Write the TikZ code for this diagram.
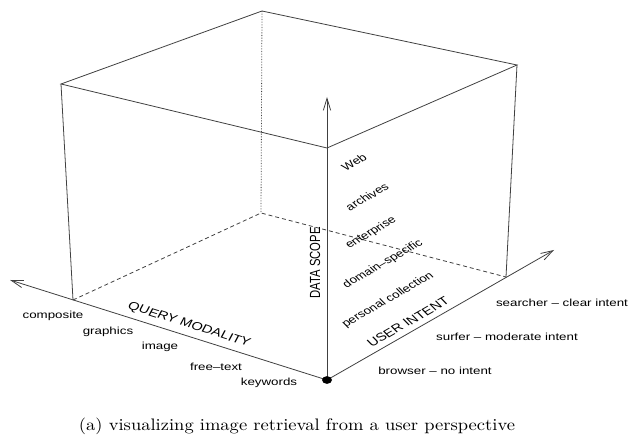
\documentclass[tikz,border=0pt]{standalone}
\usepackage{fontspec}
\usepackage{graphicx}
\usetikzlibrary{arrows.meta,shapes.geometric}
\newfontfamily\lsans{Liberation Sans}
\newcommand{\sqz}[2]{\scalebox{1}[0.77]{\rotatebox{#1}{#2}}}
\begin{document}
\begin{tikzpicture}[x=0.75pt,y=-0.75pt,
  edge/.style={line width=0.6pt, draw=black!75},
  hidden/.style={edge, dash pattern=on 3pt off 2.2pt},
  backdot/.style={edge, dash pattern=on 0.8pt off 1.2pt},
  axisline/.style={edge, -{Straight Barb[length=9pt,width=5.5pt]}},
  lab/.style={inner sep=0pt, font=\lsans\fontsize{10}{12}\selectfont},
  ttl/.style={inner sep=0pt, font=\lsans\fontsize{11}{13}\selectfont},
  odot/.style={ellipse, fill=black, inner sep=0pt, minimum width=7.5pt, minimum height=5.8pt}]
\useasboundingbox (0,0) rectangle (640,445);
% corners
\coordinate (O)  at (327,380);
\coordinate (FT) at (327,148);
\coordinate (LT) at (61,84);
\coordinate (BT) at (262,11);
\coordinate (RT) at (517,65);
\coordinate (LB) at (73,300);
\coordinate (RB) at (506,277);
\coordinate (BB) at (261,213);
\coordinate (QM) at (10,280);
\coordinate (UI) at (554,250);
\coordinate (DS) at (327,97);
% box
\draw[edge] (LT) -- (BT) -- (RT) -- (FT) -- cycle;
\draw[edge] (LT) -- (LB);
\draw[edge] (RT) -- (RB);
\draw[hidden] (LB) -- (BB) -- (RB);
\draw[backdot] (BT) -- (BB);
% axes
\draw[axisline] (O) -- (QM);
\draw[axisline] (O) -- (UI);
\draw[axisline] (O) -- (DS);
\node[odot] (od) at (O) {};
% axis titles
\node[ttl] (tqm) at (189,325) {\sqz{-22.2}{QUERY MODALITY}};
\node[ttl] (tui) at (408,322) {\sqz{36.7}{USER INTENT}};
\node[ttl] (tds) at (315,263) {\sqz{90}{DATA SCOPE}};
% query modality labels
\node[lab] (q1) at (53,316) {\sqz{0}{composite}};
\node[lab] (q2) at (108,332) {\sqz{0}{graphics}};
\node[lab] (q3) at (160,347) {\sqz{0}{image}};
\node[lab] (q4) at (216,367) {\sqz{0}{free–text}};
\node[lab] (q5) at (269,383) {\sqz{0}{keywords}};
% data scope labels
\node[lab] (d1) at (354,162) {\sqz{36.7}{Web}};
\node[lab] (d2) at (367,197) {\sqz{36.7}{archives}};
\node[lab] (d3) at (371,233) {\sqz{36.7}{enterprise}};
\node[lab] (d4) at (383,264) {\sqz{36.7}{domain–specific}};
\node[lab] (d5) at (388,300) {\sqz{36.7}{personal collection}};
% user intent labels
\node[lab] (u1) at (435,371) {\sqz{0}{browser – no intent}};
\node[lab] (u2) at (507,337) {\sqz{0}{surfer – moderate intent}};
\node[lab] (u3) at (562,303) {\sqz{0}{searcher – clear intent}};
% caption
\node[inner sep=0pt] (cap) at (297,426) {\resizebox{327pt}{!}{\scalebox{1}[0.9]{(a) visualizing image retrieval from a user perspective}}};
\end{tikzpicture}
\end{document}
